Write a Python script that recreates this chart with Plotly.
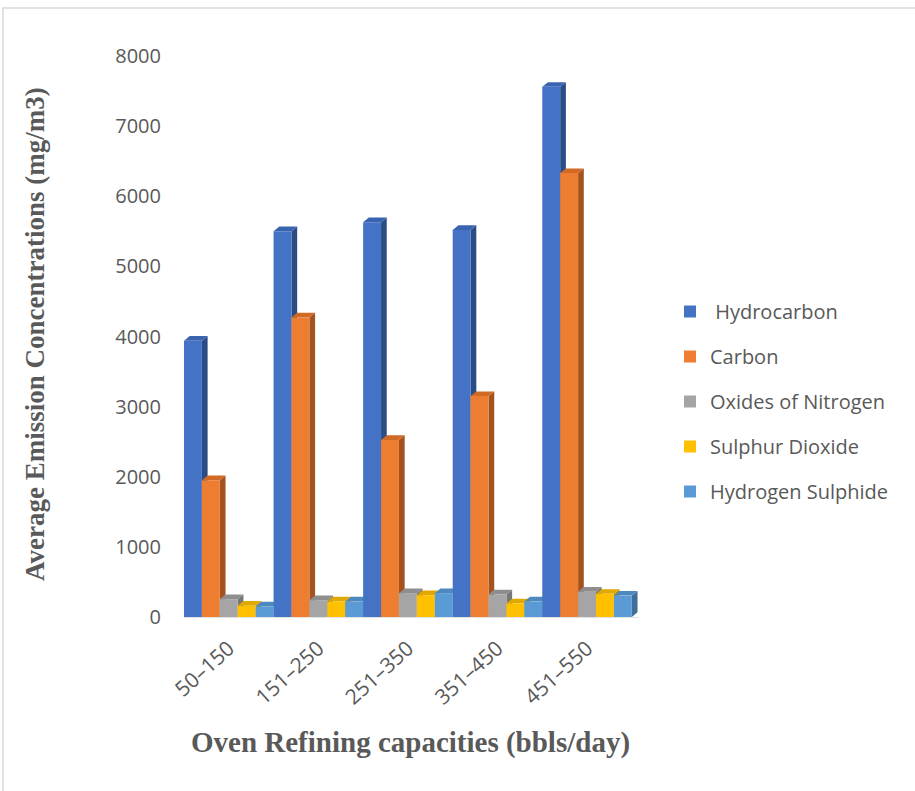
import plotly.graph_objects as go

categories = ["50–150", "151–250", "251–350", "351–450", "451–550"]
series_names = [" Hydrocarbon", "Carbon", "Oxides of Nitrogen", "Sulphur Dioxide", "Hydrogen Sulphide"]
hydrocarbon = [3940, 5500, 5630, 5520, 7560]
carbon = [1950, 4270, 2525, 3150, 6330]
oxides_nitrogen = [255, 240, 340, 320, 360]
sulphur_dioxide = [160, 220, 310, 195, 330]
hydrogen_sulphide = [150, 220, 340, 220, 305]
y_ticks = [0, 1000, 2000, 3000, 4000, 5000, 6000, 7000, 8000]

series_values = [hydrocarbon, carbon, oxides_nitrogen, sulphur_dioxide, hydrogen_sulphide]
front_colors = ["#4472C4", "#ED7D31", "#A5A5A5", "#FFC000", "#5B9BD5"]
side_colors = ["#2C4C86", "#A4531E", "#777777", "#BF9000", "#3F6E98"]
top_colors = ["#3A64B0", "#D06A25", "#8E8E8E", "#E0A800", "#4D88BE"]

W, H = 915, 791
L, T = 184, 56
x_range = [-0.5, 4.58]
unit_px = 89.6
plot_w = (x_range[1] - x_range[0]) * unit_px
R = W - L - plot_w
B = H - 617
plot_h = H - T - B
bar_w = 0.2
dx = 5.7 / unit_px
dy = 4.7 / plot_h * 8000

fig = go.Figure()
for k, (name, vals) in enumerate(zip(series_names, series_values)):
    fig.add_trace(go.Bar(
        x=list(range(len(categories))), y=vals, name=name,
        width=bar_w, offset=-0.5 + k * bar_w,
        marker=dict(color=front_colors[k], line=dict(width=0)),
        legendgroup=f"g{k}",
    ))

shapes = []
for i in range(len(categories)):
    for k, vals in enumerate(series_values):
        v = vals[i]
        left = i - 0.5 + k * bar_w
        right = left + bar_w
        side = f"M {right},0 L {right+dx},{dy} L {right+dx},{v+dy} L {right},{v} Z"
        top = f"M {left},{v} L {left+dx},{v+dy} L {right+dx},{v+dy} L {right},{v} Z"
        shapes.append(dict(type="path", path=side, xref="x", yref="y", layer="below",
                           fillcolor=side_colors[k], line=dict(width=0)))
        shapes.append(dict(type="path", path=top, xref="x", yref="y", layer="below",
                           fillcolor=top_colors[k], line=dict(width=0)))

# outer frame of the picture
shapes.append(dict(type="rect", xref="paper", yref="paper",
                   x0=(3 - L) / plot_w, x1=(W + 2 - L) / plot_w,
                   y0=(H - B - (H + 2)) / plot_h, y1=(H - B - 8) / plot_h,
                   line=dict(color="#D9D9D9", width=1.5), layer="below"))

fig.update_layout(
    width=W, height=H,
    margin=dict(l=L, r=R, t=T, b=B, pad=0),
    paper_bgcolor="white", plot_bgcolor="white",
    barmode="overlay",
    shapes=shapes,
    font=dict(family="Open Sans", color="#595959"),
    xaxis=dict(range=x_range, tickmode="array", tickvals=list(range(len(categories))),
               ticktext=categories, tickangle=-42, showgrid=False, zeroline=False,
               showline=True, linecolor="#E3E3E3", linewidth=1, ticks="",
               ticklabelstandoff=10,
               tickfont=dict(size=21, color="#595959", family="Open Sans")),
    yaxis=dict(range=[0, 8000], tickvals=y_ticks, showgrid=False, zeroline=False,
               showline=False, ticks="", ticklabelstandoff=22,
               tickfont=dict(size=20, color="#595959", family="Open Sans")),
    legend=dict(x=670 / W, y=1 - 292 / H, xref="container", yref="container",
                xanchor="left", yanchor="top", traceorder="grouped", tracegroupgap=16,
                font=dict(size=20, color="#595959", family="Open Sans"),
                bgcolor="rgba(0,0,0,0)"),
    annotations=[
        dict(text="<b>Average Emission Concentrations (mg/m3)</b>", textangle=-90,
             x=(35 - L) / plot_w, y=(617 - 334) / plot_h, xref="paper", yref="paper",
             xanchor="center", yanchor="middle",
             showarrow=False, font=dict(family="Liberation Serif", size=27, color="#595959")),
        dict(text="<b>Oven Refining capacities (bbls/day)</b>",
             x=(411 - L) / plot_w, y=(617 - 742) / plot_h, xref="paper", yref="paper",
             xanchor="center", yanchor="middle",
             showarrow=False, font=dict(family="Liberation Serif", size=29, color="#595959")),
    ],
)

fig.write_html("out.html")
